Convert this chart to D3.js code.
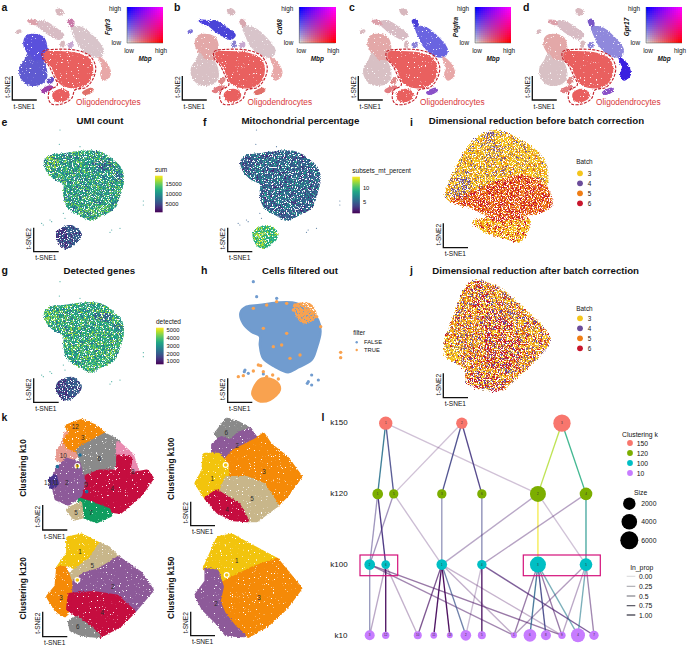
<!DOCTYPE html>
<html><head><meta charset="utf-8">
<style>html,body{margin:0;padding:0;background:#fff}svg{display:block}text{font-family:"Liberation Sans",Arial,sans-serif;fill:#111}</style>
<script src="https://cdn.jsdelivr.net/npm/d3@7"></script></head><body><script>
// ---------- t-SNE atlas shapes (panels a-d), in embedding units
const oligo=[[135,158],[170,155],[230,160],[265,175],[278,205],[272,235],[250,258],[215,263],[180,250],[168,228],[155,200],[135,178]];
const oligoSmall=[[160,280],[185,268],[205,278],[205,293],[180,305],[162,298]];
const oligoOutline=[[128,155],[165,148],[235,152],[270,168],[287,200],[280,235],[258,262],[225,270],[215,295],[185,312],[155,312],[145,295],[150,270],[172,255],[160,225],[145,195],[128,175]];
const astroUpper=[[80,108],[115,105],[135,120],[135,180],[100,180],[85,160],[72,135]];
const astroLower=[[85,160],[100,180],[128,185],[140,230],[125,250],[90,255],[65,235],[60,205],[75,180]];
const micro=[[108,68],[128,62],[168,85],[191,105],[178,118],[148,105],[118,82]];
const microHead=[[83,62],[105,62],[112,72],[98,72]];
const opc=[[215,80],[250,85],[285,115],[310,150],[300,170],[270,165],[240,140],[222,105]];
const opcTip=[[205,62],[215,58],[222,72],[215,80]];
const nfol=[[297,172],[323,195],[330,225],[312,240],[302,222],[308,205]];
const stripA=[[248,278],[275,265],[280,272],[255,283]];
const stripB=[[123,272],[150,258],[158,262],[132,278]];
const stripC=[[142,245],[155,232],[160,240],[148,250]];
const bitTop=[[168,30],[180,27],[190,38],[178,45]];
const bitLeft=[[50,95],[60,90],[62,95],[52,100]];
const bitMid=[[185,125],[192,125],[190,140],[183,140]];
const bitMid2=[[205,132],[218,128],[218,140],[208,142]];
const atlasRegions=[astroUpper,astroLower,micro,microHead,opc,opcTip,nfol,stripA,stripB,stripC,bitTop,bitLeft,bitMid,bitMid2,oligo,oligoSmall];
const colsA=["#5a50dc","#5f5ad0","#d8bcc4","#dca0aa","#d8c4ca","#c978a8","#e8a8a8","#e0706a","#a040a8","#6a50c8","#d8b8be","#d8b8be","#d8b8be","#c8a8d0","#e9605f","#e9605f"];
const colsB=["#e3a8a8","#d8c0c4","#4a44d8","#4a3fe0","#d8c4ca","#d8a8b0","#e8a8a8","#e0706a","#e27c80","#e08a8a","#d8b8be","#7a70d8","#8a80d0","#c8a8d0","#e9605f","#e9605f"];
const colsC=["#e3a8a8","#d8c0c4","#d8bcc4","#dca0aa","#6a64e0","#4a3fd8","#e8a8a8","#8a50c8","#e27c80","#e08a8a","#d8b8be","#d8b8be","#d8b8be","#8a80d8","#e9605f","#e9605f"];
const colsD=["#e3a8a8","#d8c0c4","#d8bcc4","#dca0aa","#8f88dc","#7a58c8","#3a20e0","#8a50c8","#e27c80","#e08a8a","#d8b8be","#d8b8be","#d8b8be","#8a80d8","#e9605f","#e9605f"];
const atlasCols=[colsA,colsB,colsC,colsD];
const atlasOffsets=[0,171.5,344,520];
const yFeatures=["Fgfr3","Cd68","Pdgfra","Gpr17"];
const legendOffsets=[127,299.3,475,646];

// ---------- QC panels e-h shapes
const qcMain=[[132,108],[150,90],[190,85],[240,78],[300,80],[345,108],[365,130],[372,165],[360,215],[345,250],[300,275],[275,287],[235,270],[200,245],[190,205],[190,178],[165,165],[140,140]];
const qcSmall=[[170,320],[215,300],[245,325],[240,345],[200,372],[175,355]];
const qcTopLeft=[[135,100],[165,90],[175,125],[150,140]];
const qcLower=[[240,265],[290,245],[335,240],[280,285]];
const qcDark=[[282,112],[330,110],[332,132],[290,130]];
const qcDarkRight=[[340,140],[370,150],[360,170],[340,160]];
const qcSmallLeft=[[170,320],[195,308],[205,350],[200,372],[175,355]];
const qcStray=[[180,15],[178,58],[240,65],[150,285],[155,290],[190,265],[195,280],[335,315],[330,322],[430,228],[430,240],[130,300],[360,310],[125,295]];
const umiVals=[.5,.66,.85,.78,.2,.28,.12,.3];
const mitoVals=[.3,.4,.28,.3,.3,.3,.88,.62];
const genesVals=[.55,.7,.82,.72,.25,.32,.12,.3];
const sumTicks=[15000,10000,5000], sumDomain=[19000,1000];
const mitoTicks=[10,5], mitoDomain=[14,1.2];
const detTicks=[5000,4000,3000,2000,1000], detDomain=[5350,600];
const filterBlue=[[760,470],[770,515],[830,520],[735,735],[745,745],[790,747],[925,770],[935,780],[955,765],[935,750],[733,740],[922,775]];
const filterOrange=[[760,550],[800,540],[830,530],[860,535],[885,540],[950,575],[962,605],[790,610],[820,665],[845,660],[860,625],[900,690],[870,700],[775,720],[782,722],[760,738],[730,752],[715,755],[790,740],[800,755],[818,750],[835,762],[1022,682],[1022,698],[905,570],[920,580],[880,555],[940,565],[925,555]];
const filterPatch=[[880,540],[930,535],[950,570],[925,595],[900,590],[885,565]];
const filterSmall=[[760,790],[785,760],[830,770],[840,795],[810,825],[775,828],[757,810]];

// ---------- Batch panels
const batchLabels=["3","4","5","6"];
const batchColors=["#f4c51c","#6b4c9a","#ef7d14","#c8162c"];
const iUpper=[[305,215],[330,140],[385,50],[450,15],[540,50],[600,100],[610,180],[580,160],[520,150],[430,185],[370,220],[330,235]];
const iPurpleA=[[440,55],[475,60],[470,90],[445,85]];
const iPurpleB=[[320,205],[350,160],[385,170],[375,200],[340,225]];
const iPurpleC=[[420,22],[450,20],[455,38],[428,40]];
const iBand=[[320,225],[370,205],[430,180],[520,150],[580,160],[610,185],[625,240],[600,260],[540,275],[470,290],[420,270],[385,250],[345,240]];
const iLower=[[385,290],[420,280],[500,275],[560,285],[530,350],[480,340],[420,320]];
const jOutline=[[300,660],[330,570],[370,480],[400,465],[470,490],[540,550],[620,640],[590,690],[530,750],[470,795],[370,775],[360,730],[310,700]];
const jRed=[[370,480],[410,470],[450,540],[520,620],[540,680],[500,740],[430,720],[420,650],[400,560]];
const jLower=[[370,755],[430,745],[485,760],[470,795],[375,780]];
const jPurple=[[520,560],[620,640],[590,690],[540,640]];
const jYellow=[[300,660],[340,640],[350,700],[310,700]];

// ---------- Clustering panels
const clusterColor={1:"#f2c40d",2:"#8d5a99",3:"#f58a07",4:"#c50d3f",5:"#c8b68a",6:"#8a8a8a",7:"#0f9d5f",8:"#e88bb0",10:"#e89a90",11:"#4a3590",12:"#f3a08a",9:"#1a6e9a"};
const k10Ids=[10,12,3,6,8,4,2,7,5,11];
const k10Shapes=[[[175,140],[195,105],[215,115],[240,140],[215,165],[175,165]],[[197,85],[215,80],[215,115],[195,105]],[[200,65],[245,48],[285,65],[315,90],[290,110],[250,125],[240,140],[205,125],[195,105],[215,85]],[[250,125],[315,90],[355,110],[360,160],[330,195],[260,215],[240,205],[245,170],[235,135]],[[355,115],[395,150],[410,195],[385,220],[360,215],[355,185],[375,165],[355,155]],[[260,215],[300,200],[355,200],[355,155],[390,160],[385,210],[440,200],[455,220],[420,270],[360,320],[325,315],[270,290],[240,280],[255,240]],[[175,190],[200,165],[235,175],[250,230],[240,270],[205,295],[170,280],[160,240],[165,210]],[[240,285],[270,295],[325,315],[330,330],[290,348],[255,335],[245,315]],[[205,315],[240,295],[245,335],[225,340]],[[150,225],[165,215],[170,235],[155,245]]];
const k10Labels=[["12",226,64],["3",248,97],["10",190,151],["6",298,160],["1",232,183],["8",398,198],["2",200,232],["13",143,232],["11",166,231],["9",258,238],["4",337,250],["5",228,322],["7",272,322]];
const k10Blue=[[240,150],[260,260],[172,185]];
const k100Ids=[6,2,3,1,5,4];
const k100Shapes=[[[650,85],[680,45],[715,55],[750,75],[720,85],[690,110],[665,110]],[[640,120],[665,100],[690,110],[720,85],[750,75],[770,105],[730,130],[700,140],[675,165],[640,140]],[[700,180],[670,175],[700,140],[770,105],[790,90],[810,120],[860,160],[900,215],[860,270],[830,300],[790,240],[740,220],[680,220]],[[615,150],[655,150],[680,180],[680,225],[640,270],[620,280],[590,235],[610,200]],[[680,220],[740,220],[790,240],[830,300],[770,345],[740,345],[715,300],[660,270],[670,245]],[[620,280],[650,260],[715,300],[740,345],[700,342],[655,320]]];
const k100Labels=[["6",679,81],["2",712,120],["3",792,198],["1",637,220],["5",756,280],["4",681,313]];
const k120Ids=[1,5,2,3,4,6];
const k120Shapes=[[[205,400],[245,392],[300,420],[270,465],[235,490],[195,475],[175,488],[205,445]],[[300,420],[325,430],[355,460],[300,495],[250,510],[215,540],[195,520],[235,490],[270,465]],[[355,460],[420,505],[455,555],[425,590],[400,620],[350,575],[280,565],[210,570],[215,540],[250,510],[300,495]],[[175,490],[195,490],[210,530],[210,600],[195,630],[170,615],[145,575],[170,545]],[[210,570],[280,565],[350,575],[400,620],[360,660],[300,692],[265,670],[225,625],[205,610]],[[210,650],[230,640],[265,665],[295,692],[250,688],[215,675]]];
const k120Labels=[["1",240,440],["5",277,482],["3",183,577],["2",338,545],["4",307,623],["6",233,665]];
const k150Ids=[1,3,2];
const k150Shapes=[[[655,400],[695,392],[745,420],[830,465],[760,490],[700,520],[670,540],[650,500],[615,490]],[[660,540],[700,520],[760,490],[830,465],[900,550],[855,610],[800,660],[745,692],[700,660],[670,620],[655,580]],[[620,495],[650,500],[665,545],[655,590],[670,625],[705,670],[730,690],[680,688],[650,650],[610,610],[590,570],[620,530]]];
const k150Labels=[["1",710,465],["3",777,577],["2",648,596]];
const clusterRings=[[232,183],[677,180],[232,525],[680,510]];
const clusterTitles=["Clustering k10","Clustering k100","Clustering k120","Clustering k150"];

// ---------- Clustree panel l
const treeLevels=["k150","k120","k100","k10"];
const treeLabels=[[1,2,3],[1,5,3,6,2,4],[2,6,1,4,3,5],[3,12,10,11,13,2,5,1,6,8,9,4,7]];
const treeSlots=[[1,5.75,12],[.5,1.5,4.5,7,10.5,13.5],[0,1,4.5,7,10.5,13.5],[0,1,3,4,5,6,7,9,10,11,12,13,14]];
const treeSizes=[[2470,1425,5400],[1140,670,670,670,4300,2080],[1140,480,1140,670,4300,2080],[890,195,320,100,35,1140,320,35,2080,890,195,2880,670]];
const treeColors=["#f8766d","#7cae00","#00bfc4","#c77cff"];
const edges150=[[1,1,.38,.95],[1,5,.2,.9],[1,2,.03,.22],[2,5,.03,.22],[2,3,.2,.95],[2,6,.16,.95],[3,2,.88,.85],[3,4,.62,.9]];
const edges120=[[1,2,.15,.5],[1,6,.14,1],[5,2,.12,.5],[5,1,.04,.25],[3,1,.2,.55],[6,4,.2,.62],[2,3,.98,.8],[2,5,.04,.22],[2,1,.07,.36],[4,4,.06,.38],[4,5,.52,.85]];
const edges100=[[2,3,.2,.55],[2,9,.03,.55],[2,1,.04,.5],[6,12,.02,1],[6,3,.05,.35],[6,10,.03,.3],[1,10,.04,.72],[1,11,.02,1],[1,13,.01,1],[1,2,.25,.75],[1,1,.03,.3],[1,9,.03,.28],[4,5,.03,1],[4,2,.04,.25],[4,7,.08,.72],[3,1,.04,.55],[3,6,.33,.9],[3,8,.2,.95],[3,9,.04,.55],[3,4,.42,.62],[5,1,.05,.4],[5,9,.05,.35],[5,4,.42,.62],[5,7,.05,.5]];
const treeEdges=[edges150,edges120,edges100];
const colorLegend=["150","120","100","10"];
const sizeLegend=[2000,4000,6000];
const propLegend=[0,.25,.5,.75,1];
const propLegendText=["0.00","0.25","0.5","0.75","1.00"];

// ---------- Helpers
const svg=d3.select("body").append("svg").attr("width",688).attr("height",645);
const defs=svg.append("defs");
function grain(id,k,offset,seed,freq,disp,blur){
  const f=defs.append("filter").attr("id",id).attr("x","-8%").attr("y","-8%").attr("width","116%").attr("height","116%").attr("color-interpolation-filters","sRGB");
  f.append("feTurbulence").attr("type","fractalNoise").attr("baseFrequency",freq).attr("numOctaves",2).attr("seed",seed).attr("result","n");
  f.append("feDisplacementMap").attr("in","SourceGraphic").attr("in2","n").attr("scale",disp).attr("xChannelSelector","R").attr("yChannelSelector","G").attr("result","d");
  f.append("feColorMatrix").attr("in","n").attr("type","matrix").attr("values",`0 0 0 0 0 0 0 0 0 0 0 0 0 0 0 ${k} 0 0 0 ${offset}`).attr("result","m");
  f.append("feComposite").attr("in","d").attr("in2","m").attr("operator","in").attr("result","c");
  f.append("feGaussianBlur").attr("in","c").attr("stdDeviation",blur);
}
grain("solid",14,-3.2,3,.83,3,.3);      // few holes
grain("holes",14,-4.7,5,.83,3.5,.3);    // white speckles
grain("airy",14,-5.4,13,.83,7,.35);     // white-rich scatter
grain("half",14,-7,7,.87,1.5,0);        // overlay
grain("sparse",14,-8,11,.87,1.5,0);     // sparse overlay
grain("sparse2",14,-8,17,.87,1.5,0);
const frame=(ox,oy)=>({x:d3.scaleLinear().domain([0,300]).range([ox,ox+100]),y:d3.scaleLinear().domain([0,300]).range([oy,oy+100])});
const poly=(fr,pts,curve)=>d3.line().x(d=>fr.x(d[0])).y(d=>fr.y(d[1])).curve(curve||d3.curveCatmullRomClosed.alpha(.5))(pts);
function layer(fr,shapes,colors,filter,o={}){
  const g=(o.parent||svg).append("g").attr("filter",filter?`url(#${filter})`:null);
  const col=(d,i)=>Array.isArray(colors)?colors[i]:colors;
  g.selectAll("path").data(shapes).join("path").attr("d",d=>poly(fr,d,o.linear?d3.curveLinearClosed:null)).attr("fill",col)
    .attr("stroke",o.stroke?col:null).attr("stroke-width",o.stroke||null).attr("stroke-linejoin","round");
  return g;
}
const text=(x,y,s,o={})=>{const t=svg.append("text").attr("x",x).attr("y",y).text(s).attr("font-size",o.size||6).attr("dominant-baseline","central").attr("text-anchor",o.anchor||"start");
  if(o.bold)t.attr("font-weight","bold");if(o.italic)t.attr("font-style","italic");if(o.fill)t.style("fill",o.fill);
  if(o.rot)t.attr("transform",`rotate(-90 ${x} ${y})`);return t;};
function scaleBar(x,yTop,len,w){
  svg.append("path").attr("d",`M${x},${yTop}V${yTop+len}H${x+w}`).attr("fill","none").attr("stroke","#111").attr("stroke-width",1.3);
  text(x+w/2-.3,yTop+len+6,"t-SNE1",{size:6.6,anchor:"middle"});
  text(x-5,yTop+len/2-1,"t-SNE2",{size:6.6,anchor:"middle",rot:true});
}
// ---------- Panels a-d
const mix=(u,v)=>{const p=Math.pow(u,.85),q=Math.pow(v,.85);const r=211*(1-p)*(1-q)+255*p*(1-q)+255*p*q;const g=211*(1-p)*(1-q);const b=211*(1-p)*(1-q)+255*q;return `rgb(${r|0},${g|0},${b|0})`;};
const oCells=d3.range(18);
atlasOffsets.forEach((ox,i)=>{
  const fr=frame(ox,0);
  layer(fr,atlasRegions,atlasCols[i],"solid",{stroke:1.4});
  svg.append("path").attr("d",poly(fr,oligoOutline)).attr("fill","none").attr("stroke","#c41e28").attr("stroke-width",1.1).attr("stroke-dasharray","3 1.3");
  text(fr.x(228),101.7,"Oligodendrocytes",{size:8.3,fill:"#d8383a"});
  const lx=legendOffsets[i];
  const cx=d3.scaleBand().domain(oCells).range([lx,lx+36]),cy=d3.scaleBand().domain(oCells).range([43,7]);
  const lg=svg.append("g").attr("shape-rendering","crispEdges");
  oCells.forEach(a=>oCells.forEach(b=>lg.append("rect").attr("x",cx(a)).attr("y",cy(b)).attr("width",cx.bandwidth()+.4).attr("height",cy.bandwidth()+.4).attr("fill",mix(a/17,b/17))));
  svg.append("path").attr("d",`M${lx},7V43H${lx+36}`).attr("fill","none").attr("stroke","#555").attr("stroke-width",.5);
  text(lx-6,8.3,"high",{size:6.4,anchor:"end"});text(lx-6,42.7,"low",{size:6.4,anchor:"end"});
  text(lx+2,50,"low",{size:6.4,anchor:"middle"});text(lx+34,50,"high",{size:6.4,anchor:"middle"});
  text(lx+18,58.5,"Mbp",{size:6.4,anchor:"middle",bold:true,italic:true});
  text(lx-20,27,yFeatures[i],{size:6.4,anchor:"middle",bold:true,italic:true,rot:true});
});
[[12.3],[182.3],[358.3],[532.3]].forEach(([x])=>scaleBar(x,76,24,24.5));

// ---------- Panels e,f,g
function qcPanel(ox,oy,vals){
  const fr=frame(ox,oy),v=d3.interpolateViridis;
  const base=svg.append("g").attr("filter","url(#holes)");
  base.selectAll("path.b").data([qcMain,qcSmall]).join("path").attr("class","b").attr("d",d=>poly(fr,d)).attr("fill",(d,i)=>v(i?vals[7]:vals[0]));
  layer(fr,[qcMain],v(vals[1]),"half",{parent:base});
  layer(fr,[qcMain],v(vals[1]+.15),"sparse",{parent:base});
  layer(fr,[qcMain],v(vals[0]-.18),"sparse2",{parent:base});
  const p=base.append("g").attr("filter","url(#half)");
  [[qcTopLeft,2],[qcLower,3],[qcDark,4],[qcDarkRight,5],[qcSmallLeft,6]].forEach(([s,k])=>p.append("path").attr("d",poly(fr,s)).attr("fill",v(vals[k])));
  layer(fr,[qcSmall],v(vals[6]),"sparse",{parent:base});
  svg.append("g").selectAll("circle").data(qcStray).join("circle").attr("cx",d=>fr.x(d[0])).attr("cy",d=>fr.y(d[1])).attr("r",.6).attr("fill",v(vals[0])).attr("opacity",.8);
}
qcPanel(0,125,umiVals);qcPanel(196.5,125,mitoVals);qcPanel(0,276.7,genesVals);
function colorbar(id,x,y0,y1,title,ticks,dom,titleY){
  const g=defs.append("linearGradient").attr("id",id).attr("x1",0).attr("x2",0).attr("y1",1).attr("y2",0);
  d3.range(0,1.01,.1).forEach(t=>g.append("stop").attr("offset",t).attr("stop-color",d3.interpolateViridis(t)));
  svg.append("rect").attr("x",x).attr("y",y0).attr("width",7.6).attr("height",y1-y0).attr("fill",`url(#${id})`);
  const s=d3.scaleLinear().domain(dom).range([y0,y1]);
  ticks.forEach(t=>text(x+10.6,s(t),String(t),{size:5.8}));
  text(x,titleY,title,{size:6.5});
}
colorbar("gE",155,175.7,212.3,"sum",sumTicks,sumDomain,169.3);
colorbar("gF",352.3,176.7,213.3,"subsets_mt_percent",mitoTicks,mitoDomain,170.7);
colorbar("gG",156,327.7,364.3,"detected",detTicks,detDomain,321.7);
scaleBar(33.7,227.7,24,25);scaleBar(227.7,227.7,24,24.6);scaleBar(33.7,378.3,24,25);scaleBar(227.7,378.3,24,24.6);

// ---------- Panel h
{
  const fr=frame(196.5,276.7),frB=frame(0,125);
  svg.append("g").append("path").attr("d",poly(fr,qcMain)).attr("fill","#719ccf").attr("stroke","#719ccf").attr("stroke-width",2.4);
  const dots=(pts,c,r)=>svg.append("g").selectAll("circle").data(pts).join("circle").attr("cx",d=>frB.x(d[0])).attr("cy",d=>frB.y(d[1])).attr("r",r).attr("fill",c);
  dots(filterBlue,"#719ccf",1.6);
  svg.append("path").attr("d",poly(frB,filterPatch)).attr("fill","#f9a24f").attr("filter","url(#holes)");
  dots(filterOrange,"#f9a24f",1.7);
  svg.append("path").attr("d",poly(frB,filterSmall)).attr("fill","#f9a24f").attr("stroke","#f9a24f").attr("stroke-width",2);
  text(353.3,332.3,"filter",{size:6.3});
  ["FALSE","TRUE"].forEach((s,i)=>{svg.append("circle").attr("cx",356.7).attr("cy",342.3+i*7.7).attr("r",1.2).attr("fill",i?"#f9a24f":"#719ccf");text(364,342.3+i*7.7,s,{size:5.8});});
}
// ---------- Panels i,j
const frI=frame(344,125);
const gi=svg.append("g").attr("filter","url(#airy)");
layer(frI,[iUpper,iLower],batchColors[0],null,{parent:gi});
layer(frI,[iBand],batchColors[2],null,{parent:gi});
layer(frI,[iUpper],batchColors[1],"sparse",{parent:gi});
layer(frI,[iUpper,iLower],batchColors[2],"sparse2",{parent:gi});
layer(frI,[iPurpleA,iPurpleB,iPurpleC],batchColors[1],"half",{parent:gi});
layer(frI,[iBand],batchColors[3],"half",{parent:gi});
layer(frI,[iLower],batchColors[3],"sparse",{parent:gi});
const gj=svg.append("g").attr("filter","url(#airy)");
layer(frI,[jOutline],batchColors[0],null,{parent:gj});
layer(frI,[jOutline],batchColors[2],"half",{parent:gj});
layer(frI,[jRed,jLower],batchColors[3],"half",{parent:gj});
layer(frI,[jOutline],batchColors[3],"sparse2",{parent:gj});
layer(frI,[jOutline,jPurple],batchColors[1],"sparse",{parent:gj});
layer(frI,[jYellow],batchColors[0],"half",{parent:gj});
function batchLegend(yT,yR){
  text(576.3,yT,"Batch",{size:6.4});
  batchLabels.forEach((s,i)=>{svg.append("circle").attr("cx",580).attr("cy",yR+i*10).attr("r",2.9).attr("fill",batchColors[i]);text(587.7,yR+i*10,s,{size:6.4});});
}
batchLegend(161,173.3);batchLegend(308,318.3);
scaleBar(443.3,223.3,24.4,24.7);scaleBar(443.3,373.3,24.4,24.7);

// ---------- Panel k
const fk=frame(0,405);
function cluster(shapes,ids){ layer(fk,shapes,ids.map(i=>clusterColor[i]),"solid",{linear:true,stroke:4.5}); }
cluster(k10Shapes,k10Ids);
svg.append("g").selectAll("circle").data(k10Blue).join("circle").attr("cx",d=>fk.x(d[0])).attr("cy",d=>fk.y(d[1])).attr("r",1.8).attr("fill",clusterColor[9]);
cluster(k100Shapes,k100Ids);
cluster(k120Shapes,k120Ids);
cluster(k150Shapes,k150Ids);
svg.append("g").selectAll("circle").data(clusterRings).join("circle").attr("cx",d=>fk.x(d[0])).attr("cy",d=>fk.y(d[1])).attr("r",2.4).attr("fill",clusterColor[1]).attr("stroke","#fff").attr("stroke-width",1.2);
[k10Labels,k100Labels,k120Labels,k150Labels].forEach(L=>L.forEach(l=>text(fk.x(l[1]),fk.y(l[2]),l[0],{size:6.4,anchor:"middle",fill:"#2a2a2a"})));
[[22.7,468],[171,468.7],[22.7,588.3],[171,587.7]].forEach(([x,y],i)=>text(x,y,clusterTitles[i],{size:8.4,bold:true,anchor:"middle",rot:true}));
scaleBar(42.7,505,25,24.6);scaleBar(190.7,501.7,24,24.3);scaleBar(42.7,611.7,25,24.6);scaleBar(190.7,611.7,24,24.3);

// ---------- Panel l
{
  const sx=d3.scaleLinear().domain([0,14]).range([369.7,594]);
  const sy=d3.scalePoint().domain(treeLevels).range([423.2,635.3]);
  const sr=d3.scalePow().exponent(.5).domain([0,6000]).range([2.5,9]);
  const ev=d3.scaleSequential(d3.interpolateViridis).domain([0,1]);
  const ea=d3.scaleLinear().domain([0,1]).range([.06,.95]);
  const pos=(lv,label)=>{const i=treeLabels[lv].indexOf(label);return [sx(treeSlots[lv][i]),sy(treeLevels[lv])];};
  const eg=svg.append("g").attr("fill","none");
  treeEdges.forEach((E,lv)=>eg.selectAll(`path.e${lv}`).data(E).join("path").attr("class",`e${lv}`)
    .attr("d",e=>d3.line()([pos(lv,e[0]),pos(lv+1,e[1])])).attr("stroke",e=>ev(e[2])).attr("stroke-opacity",e=>ea(e[3])).attr("stroke-width",1.35));
  treeLevels.forEach((lv,l)=>{
    const g=svg.append("g");
    treeLabels[l].forEach((lab,i)=>{
      const [x,y]=[sx(treeSlots[l][i]),sy(lv)];
      g.append("circle").attr("cx",x).attr("cy",y).attr("r",sr(treeSizes[l][i])).attr("fill",treeColors[l]);
      text(x,y,String(lab),{size:3,anchor:"middle",fill:"#333"});
    });
    text(l==3?341:339,sy(lv)-.3,lv,{size:8,anchor:"middle"});
  });
  [[360,555,37.7,20.7],[523.3,555,77,20.7]].forEach(([x,y,w,h])=>svg.append("rect").attr("x",x).attr("y",y).attr("width",w).attr("height",h).attr("fill","none").attr("stroke","#d4107a").attr("stroke-width",1.2));
  text(640,434.3,"Clustering k",{size:6.8,anchor:"middle"});
  colorLegend.forEach((s,i)=>{svg.append("circle").attr("cx",630).attr("cy",443+i*10).attr("r",2.9).attr("fill",treeColors[i]);text(636.7,443+i*10,s,{size:6.8});});
  text(640.7,492.3,"Size",{size:6.8,anchor:"middle"});
  [503.7,521.7,540.3].forEach((y,i)=>{svg.append("circle").attr("cx",629.3).attr("cy",y).attr("r",sr(sizeLegend[i])).attr("fill","#000");text(641.3,y,String(sizeLegend[i]),{size:6.8});});
  text(641.7,567.3,"In_prop",{size:6.8,anchor:"middle"});
  [576.3,586.3,596,605.7,615].forEach((y,i)=>{svg.append("line").attr("x1",626.7).attr("x2",635.3).attr("y1",y).attr("y2",y).attr("stroke","#1a1a2a").attr("stroke-width",1.1).attr("stroke-opacity",ea(propLegend[i])+.1);text(639,y,propLegendText[i],{size:6.8});});
}
// ---------- Titles and letters
[["UMI count",100,120.7],["Mitochondrial percentage",300.5,120.7],["Dimensional reduction before batch correction",536.5,120.7],["Detected genes",99.3,270],["Cells filtered out",300,270],["Dimensional reduction after batch correction",535.7,270]].forEach(t=>text(t[1],t[2],t[0],{size:9.7,bold:true,anchor:"middle"}));
[["a",1.5,7],["b",174,7],["c",349,7],["d",523,7],["e",1.5,122],["f",203,122],["i",410,122],["g",1.5,270],["h",201,270],["j",410,270],["k",1.5,417.3],["l",321.5,417]].forEach(t=>text(t[1],t[2],t[0],{size:10.5,bold:true}));
</script></body></html>
